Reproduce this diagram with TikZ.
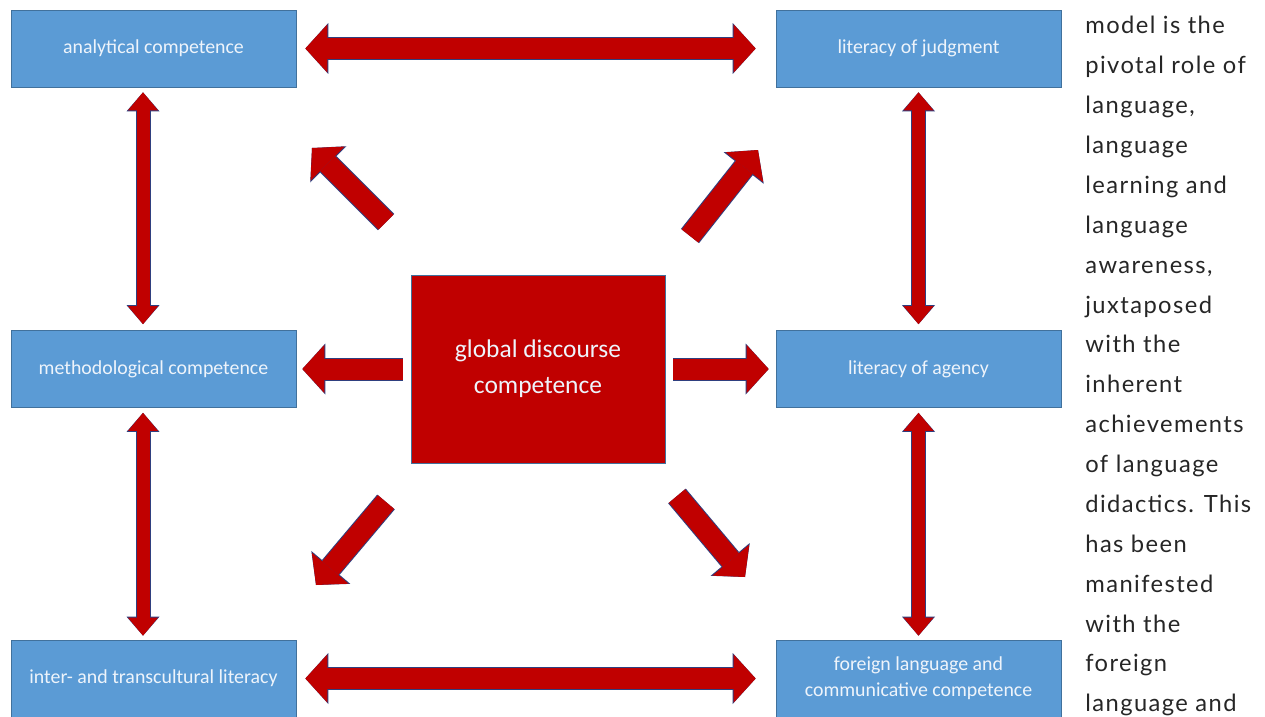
\documentclass[tikz,border=0pt]{standalone}
\usepackage{fontspec}
\setmainfont{Carlito}
\newfontfamily\sidefont[LetterSpace=6]{Lato}
\usetikzlibrary{arrows.meta}

\definecolor{boxblue}{HTML}{5B9BD5}
\definecolor{boxline}{HTML}{41719C}
\definecolor{arrred}{HTML}{C00000}
\definecolor{arrline}{HTML}{2F3F7F}
\definecolor{boxtext}{HTML}{EEF4FB}

\tikzset{
  compbox/.style={draw=boxline, fill=boxblue, text=boxtext, minimum width=5.7cm,
    minimum height=1.54cm, align=center, font=\fontsize{11.3}{15}\selectfont},
  corebox/.style={draw=boxline, fill=arrred, text=boxtext, minimum width=5.08cm,
    minimum height=3.76cm, align=center, font=\fontsize{14.5}{20.4}\selectfont},
  bigarrow/.style={draw=arrred, line width=0.42cm,
    -{Triangle[length=0.44cm,width=0.96cm,line width=0pt]},
    preaction={draw=arrline, line width=0.46cm,
      -{Triangle[length=0.46cm,width=1.02cm,line width=0pt]}}},
  bigdouble/.style={draw=arrred, line width=0.42cm,
    {Triangle[length=0.44cm,width=0.96cm,line width=0pt]}-{Triangle[length=0.44cm,width=0.96cm,line width=0pt]},
    preaction={draw=arrline, line width=0.46cm,
      {Triangle[length=0.46cm,width=1.02cm,line width=0pt]}-{Triangle[length=0.46cm,width=1.02cm,line width=0pt]}}},
  thindouble/.style={draw=arrred, line width=0.26cm,
    {Triangle[length=0.36cm,width=0.6cm,line width=0pt]}-{Triangle[length=0.36cm,width=0.6cm,line width=0pt]},
    preaction={draw=arrline, line width=0.3cm,
      {Triangle[length=0.38cm,width=0.66cm,line width=0pt]}-{Triangle[length=0.38cm,width=0.66cm,line width=0pt]}}},
  sidetext/.style={align=left, inner sep=0pt, text=black!85,
    font=\sidefont\fontsize{13.5}{22.7}\selectfont}
}

\begin{document}
\begin{tikzpicture}[x=0.02cm,y=-0.02cm]
  \clip (0,0) rectangle (1265,717);
  \fill[white] (0,0) rectangle (1265,717);

  % competence boxes
  \node[compbox] (ac) at (153.5,48.5) {analytical competence};
  \node[compbox] (lj) at (918.5,48.5) {literacy of judgment};
  \node[compbox] (mc) at (153.5,369) {methodological competence};
  \node[compbox] (la) at (918.5,369) {literacy of agency};
  \node[compbox] (it) at (153.5,678.5) {inter- and transcultural literacy};
  \node[compbox] (fl) at (918.5,678.5) {foreign language and\\communicative competence};

  % centre
  \node[corebox] (gdc) at (538,369) {global discourse\\competence};

  % double arrows round the frame
  \draw[bigdouble, shorten <=0.18cm, shorten >=0.4cm] (ac.east) -- (lj.west);
  \draw[bigdouble, shorten <=0.18cm, shorten >=0.4cm] (it.east) -- (fl.west);
  \draw[thindouble, shorten <=0.1cm, shorten >=0.12cm] ([xshift=-0.21cm]ac.south) -- ([xshift=-0.21cm]mc.north);
  \draw[thindouble, shorten <=0.1cm, shorten >=0.08cm] ([xshift=-0.21cm]mc.south) -- ([xshift=-0.21cm]it.north);
  \draw[thindouble, shorten <=0.1cm, shorten >=0.12cm] (lj.south) -- (la.north);
  \draw[thindouble, shorten <=0.1cm, shorten >=0.08cm] (la.south) -- (fl.north);

  % arrows out of the centre
  \draw[bigarrow, shorten <=0.16cm, shorten >=0.12cm] (gdc.west) -- (mc.east);
  \draw[bigarrow, shorten <=0.16cm, shorten >=0.14cm] (gdc.east) -- (la.west);

  \coordinate (nwtail) at (386,222);
  \coordinate (nwtip) at (312,148);
  \coordinate (netail) at (690,236);
  \coordinate (netip) at (758,150);
  \coordinate (swtail) at (386,502);
  \coordinate (swtip) at (316,585);
  \coordinate (setail) at (677,496);
  \coordinate (setip) at (745,577);
  \draw[bigarrow] (nwtail) -- (nwtip);
  \draw[bigarrow] (netail) -- (netip);
  \draw[bigarrow] (swtail) -- (swtip);
  \draw[bigarrow] (setail) -- (setip);

  % running text beside the figure
  \node[sidetext, anchor=north west] (side) at (1085,16) {model is the\\pivotal role of\\language,\\language\\learning and\\language\\awareness,\\juxtaposed\\with the\\inherent\\achievements\\of language\\didactics. This\\has been\\manifested\\with the\\foreign\\language and};
\end{tikzpicture}
\end{document}
